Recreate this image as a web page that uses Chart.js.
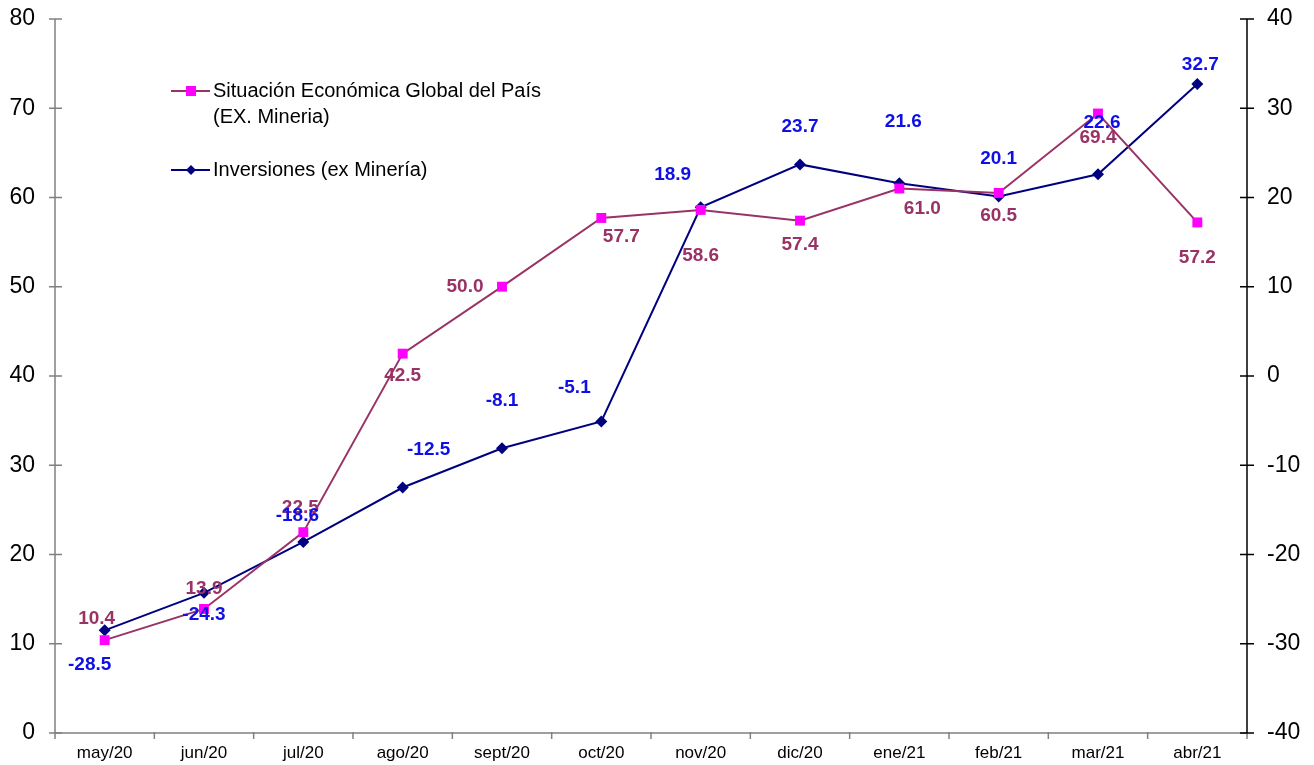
<!DOCTYPE html>
<html>
<head>
<meta charset="utf-8">
<script src="https://cdn.jsdelivr.net/npm/chart.js@4/dist/chart.umd.min.js"></script>
<style>
  html, body { margin: 0; padding: 0; background: #fff; }
  #wrap { width: 1314px; height: 765px; }
</style>
</head>
<body>
<div id="wrap"><canvas id="chart" width="1314" height="765"></canvas></div>
<script>
// datos
const meses = ['may/20', 'jun/20', 'jul/20', 'ago/20', 'sept/20', 'oct/20', 'nov/20', 'dic/20', 'ene/21', 'feb/21', 'mar/21', 'abr/21'];
const situacion = [10.4, 13.9, 22.5, 42.5, 50.0, 57.7, 58.6, 57.4, 61.0, 60.5, 69.4, 57.2];
const inversiones = [-28.5, -24.3, -18.6, -12.5, -8.1, -5.1, 18.9, 23.7, 21.6, 20.1, 22.6, 32.7];
const ticksIzq = [0, 10, 20, 30, 40, 50, 60, 70, 80];
const ticksDer = [-40, -30, -20, -10, 0, 10, 20, 30, 40];

// desplazamiento de las etiquetas (px) respecto al punto
const offSituacion = [[-8, -21], [0, -20], [-3, -24], [0, 22], [-37, 0], [20, 19], [0, 46], [0, 24], [23, 20], [0, 23], [0, 24], [0, 35]];
const offInversiones = [[-15, 34], [0, 22], [-6, -26], [26, -38], [0, -47], [-27, -34], [-28, -32], [0, -38], [4, -61], [0, -38], [4, -51], [3, -19]];

const fuente = '"Liberation Sans", Arial, sans-serif';

// etiquetas de valores
const etiquetas = {
  id: 'etiquetas',
  afterDatasetsDraw(chart) {
    const ctx = chart.ctx;
    ctx.save();
    ctx.font = 'bold 19px ' + fuente;
    ctx.textAlign = 'center';
    ctx.textBaseline = 'middle';
    const conf = [
      { idx: 0, datos: situacion, off: offSituacion, color: '#993366' },
      { idx: 1, datos: inversiones, off: offInversiones, color: '#1010E6' },
    ];
    conf.forEach((c) => {
      const meta = chart.getDatasetMeta(c.idx);
      meta.data.forEach((p, i) => {
        ctx.fillStyle = c.color;
        ctx.fillText(c.datos[i].toFixed(1), p.x + c.off[i][0], p.y + c.off[i][1]);
      });
    });
    ctx.restore();
  },
};

// ejes y marcas
const ejes = {
  id: 'ejes',
  afterDraw(chart) {
    const ctx = chart.ctx;
    const a = chart.chartArea;
    const yl = chart.scales.y;
    const yr = chart.scales.y2;
    const x = chart.scales.x;
    ctx.save();
    ctx.lineWidth = 1.5;
    // eje izquierdo
    ctx.strokeStyle = '#808080';
    ctx.beginPath();
    ctx.moveTo(a.left, a.top);
    ctx.lineTo(a.left, a.bottom);
    ticksIzq.forEach((v) => {
      const py = yl.getPixelForValue(v);
      ctx.moveTo(a.left - 6, py);
      ctx.lineTo(a.left + 7, py);
    });
    ctx.stroke();
    // eje inferior
    ctx.beginPath();
    ctx.moveTo(a.left, a.bottom);
    ctx.lineTo(a.right, a.bottom);
    const paso = (x.getPixelForValue(1) - x.getPixelForValue(0));
    for (let i = 0; i <= meses.length; i++) {
      const px = x.getPixelForValue(0) - paso / 2 + i * paso;
      ctx.moveTo(px, a.bottom - 1);
      ctx.lineTo(px, a.bottom + 6);
    }
    ctx.stroke();
    // eje derecho
    ctx.strokeStyle = '#000000';
    ctx.beginPath();
    ctx.moveTo(a.right, a.top);
    ctx.lineTo(a.right, a.bottom);
    ticksDer.forEach((v) => {
      const py = yr.getPixelForValue(v);
      ctx.moveTo(a.right - 7, py);
      ctx.lineTo(a.right + 7, py);
    });
    ctx.stroke();
    ctx.restore();
  },
};

// leyenda dentro del gráfico
const leyenda = {
  id: 'leyenda',
  afterDraw(chart) {
    const ctx = chart.ctx;
    ctx.save();
    ctx.font = '20px ' + fuente;
    ctx.textBaseline = 'middle';
    ctx.textAlign = 'left';
    // serie 1
    ctx.strokeStyle = '#993366';
    ctx.lineWidth = 2;
    ctx.beginPath();
    ctx.moveTo(171, 91);
    ctx.lineTo(210, 91);
    ctx.stroke();
    ctx.fillStyle = '#FF00FF';
    ctx.fillRect(186, 86, 10, 10);
    ctx.fillStyle = '#000';
    ctx.fillText('Situación Económica Global del País', 213, 91);
    ctx.fillText('(EX. Mineria)', 213, 117);
    // serie 2
    ctx.strokeStyle = '#000080';
    ctx.beginPath();
    ctx.moveTo(171, 170);
    ctx.lineTo(210, 170);
    ctx.stroke();
    ctx.fillStyle = '#000080';
    ctx.beginPath();
    ctx.moveTo(191, 165);
    ctx.lineTo(196, 170);
    ctx.lineTo(191, 175);
    ctx.lineTo(186, 170);
    ctx.closePath();
    ctx.fill();
    ctx.fillStyle = '#000';
    ctx.fillText('Inversiones (ex Minería)', 213, 170);
    ctx.restore();
  },
};

new Chart(document.getElementById('chart'), {
  type: 'line',
  data: {
    labels: meses,
    datasets: [
      {
        label: 'Situación Económica Global del País (EX. Mineria)',
        data: situacion,
        yAxisID: 'y',
        borderColor: '#993366',
        borderWidth: 2,
        pointStyle: 'rect',
        pointRadius: 7,
        pointBackgroundColor: '#FF00FF',
        pointBorderColor: '#FF00FF',
        pointBorderWidth: 0,
        tension: 0,
      },
      {
        label: 'Inversiones (ex Minería)',
        data: inversiones,
        yAxisID: 'y2',
        borderColor: '#000080',
        borderWidth: 2,
        pointStyle: 'rectRot',
        pointRadius: 6,
        pointBackgroundColor: '#000080',
        pointBorderColor: '#000080',
        pointBorderWidth: 0,
        tension: 0,
      },
    ],
  },
  options: {
    responsive: false,
    animation: false,
    layout: { padding: 0 },
    plugins: {
      legend: { display: false },
      tooltip: { enabled: false },
    },
    scales: {
      x: {
        offset: true,
        grid: { display: false },
        border: { display: false },
        ticks: { color: '#000', font: { family: fuente, size: 17 }, padding: 2, maxRotation: 0 },
        afterFit(s) { s.height = 32; },
      },
      y: {
        position: 'left',
        min: 0,
        max: 80,
        grid: { display: false },
        border: { display: false },
        ticks: { stepSize: 10, color: '#000', font: { family: fuente, size: 23, lineHeight: 0.6 }, padding: 12 },
        afterFit(s) { s.width = 55; },
      },
      y2: {
        position: 'right',
        min: -40,
        max: 40,
        grid: { display: false },
        border: { display: false },
        ticks: { stepSize: 10, color: '#000', font: { family: fuente, size: 23, lineHeight: 0.6 }, padding: 12 },
        afterFit(s) { s.width = 67; },
      },
    },
  },
  plugins: [etiquetas, ejes, leyenda],
});
</script>
</body>
</html>
